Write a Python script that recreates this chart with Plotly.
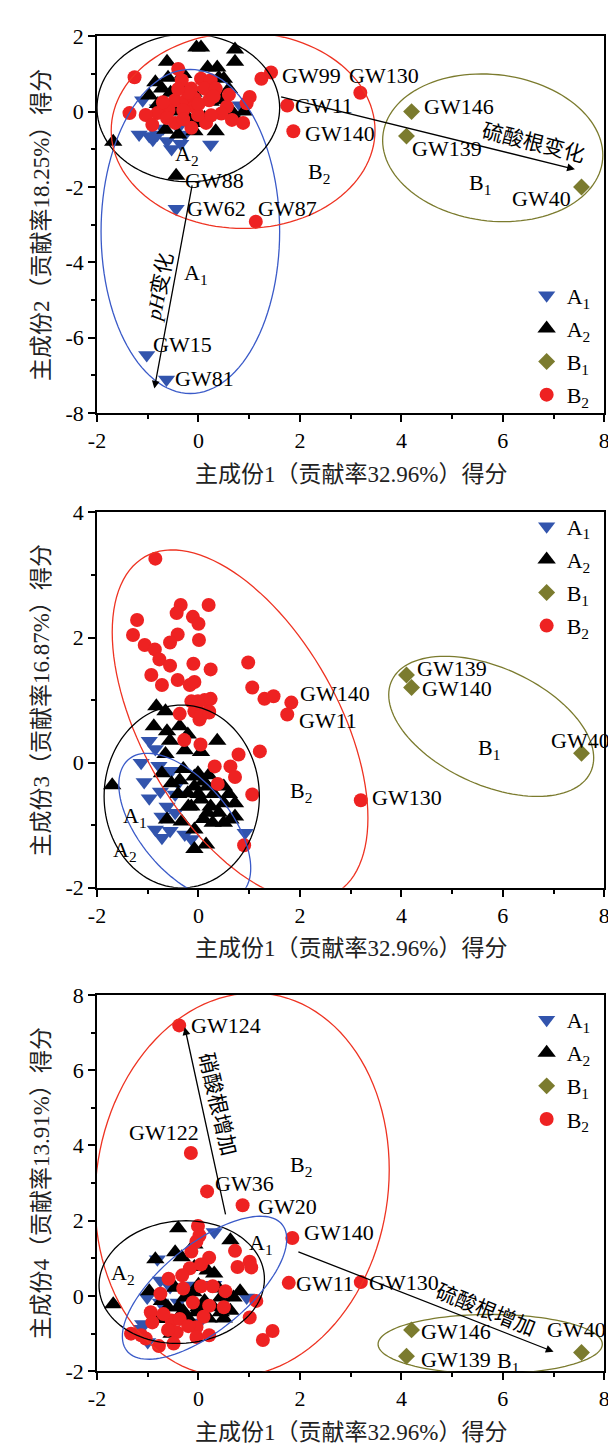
import numpy as np
import plotly.graph_objects as go

FONT = "Liberation Serif, Times New Roman, Noto Sans CJK SC, serif"

# ---------------- categories / styles ----------------
groups = ["A1", "A2", "B1", "B2"]
group_labels = ["A<sub>1</sub>", "A<sub>2</sub>", "B<sub>1</sub>", "B<sub>2</sub>"]
group_colors = {"A1": "#3254ad", "A2": "#000000", "B1": "#7b7b2e", "B2": "#ee2222"}
group_symbols = {"A1": "triangle-down", "A2": "triangle-up", "B1": "diamond", "B2": "circle"}
group_sizes = {"A1": 15, "A2": 16, "B1": 13, "B2": 14}
draw_order = ["A1", "A2", "B2", "B1"]

x_tickvals = [-2, 0, 2, 4, 6, 8]
x_ticktext = ["-2", "0", "2", "4", "6", "8"]
y1_tickvals = [2, 0, -2, -4, -6, -8]
y1_ticktext = ["2", "0", "-2", "-4", "-6", "-8"]
y2_tickvals = [4, 2, 0, -2]
y2_ticktext = ["4", "2", "0", "-2"]
y3_tickvals = [8, 6, 4, 2, 0, -2]
y3_ticktext = ["8", "6", "4", "2", "0", "-2"]

x_title = "主成份1（贡献率32.96%）得分"
y_titles = ["主成份2（贡献率18.25%）得分", "主成份3（贡献率16.87%）得分", "主成份4（贡献率13.91%）得分"]

# ---------------- Panel 1 : PC1 vs PC2 ----------------
p1_A1_x = [-1.10, -1.17, -0.97, -0.81, -0.62, -0.53, -0.40, -0.27, 0.24, 0.82, -0.81, -0.62, -0.90, -0.70, -0.35, -0.44, -1.02, -0.63]
p1_A1_y = [0.30, -0.61, -0.65, -0.61, -0.78, -0.99, -0.43, -0.61, -0.87, 0.17, 0.09, -0.13, -0.75, -0.45, -0.85, -2.58, -6.46, -7.11]
p1_A2_x = [-0.04, 0.05, 0.72, 0.72, -0.62, 0.18, 0.37, 0.50, -0.72, -0.85, -0.97, 0.66, 0.76, 0.34, -0.08, -0.65, -0.40, -1.68, -0.20, 0.12, -0.46, 0.24, -0.33, 0.45, -0.10, 0.00, 0.55, -0.55, -0.60, 0.40, 0.60, -0.80, 0.90, -0.30, -0.44]
p1_A2_y = [1.70, 1.70, 1.65, 1.32, 1.32, 1.17, 1.17, 0.87, 0.61, 0.78, 0.43, 0.00, -0.22, -0.52, -0.52, -0.48, -0.61, -0.80, -0.17, -0.17, 0.00, 0.26, 0.70, 0.30, 0.50, -0.30, -0.10, 0.50, 0.90, 0.90, 0.60, 0.20, 0.00, 1.00, -1.70]
p1_B1_x = [4.20, 4.10, 7.55]
p1_B1_y = [0.00, -0.65, -2.00]
p1_B2_x = [-1.26, -0.40, -0.33, 0.05, 0.24, -0.14, 0.12, 0.34, -0.46, -0.24, -0.08, 0.21, -0.08, -0.30, -0.59, -0.81, -1.04, -1.36, -0.91, -0.46, -0.14, 0.15, 0.56, 0.66, 0.88, 1.01, 0.95, 1.24, 1.43, 1.75, -0.01, -0.62, -0.20, 0.30, -0.40, 0.00, 0.45, -0.70, 0.60, -0.30, 0.25, 1.87, 3.19, 1.13]
p1_B2_y = [0.91, 1.13, 0.83, 0.87, 0.83, 0.61, 0.61, 0.61, 0.30, 0.30, 0.35, 0.30, 0.13, 0.04, 0.04, -0.04, -0.09, -0.04, -0.35, -0.30, -0.43, -0.30, 0.13, -0.22, -0.30, 0.39, 0.22, 0.87, 1.04, 0.16, -0.09, -0.17, 0.50, 0.40, 0.60, 0.20, -0.05, 0.25, 0.45, -0.20, -0.10, -0.52, 0.50, -2.92]

p1_lab_text = ["GW99", "GW130", "GW11", "GW140", "GW146", "GW139", "GW40", "GW88", "GW62", "GW87", "GW15", "GW81"]
p1_lab_x = [1.60, 2.92, 1.87, 2.06, 4.40, 4.16, 6.15, -0.31, -0.27, 1.13, -0.94, -0.50]
p1_lab_y = [0.95, 0.95, 0.16, -0.57, 0.13, -0.98, -2.30, -1.83, -2.57, -2.57, -6.18, -7.09]

p1_cl_text = ["A<sub>2</sub>", "B<sub>2</sub>", "B<sub>1</sub>", "A<sub>1</sub>"]
p1_cl_x = [-0.23, 2.37, 5.55, -0.04]
p1_cl_y = [-1.15, -1.62, -1.92, -4.30]

# ellipses: centre, half-width, half-height, correlation
p1_ell_group = ["A1", "A2", "B2", "B1"]
p1_ell_cx = [-0.16, -0.20, 0.88, 5.80]
p1_ell_cy = [-3.18, 0.10, -0.50, -0.96]
p1_ell_w = [1.76, 1.80, 2.60, 2.17]
p1_ell_h = [4.30, 1.96, 2.60, 1.96]
p1_ell_r = [0.0, 0.0, 0.0, -0.10]

p1_arr_tail_x = [-0.12, 1.60]
p1_arr_tail_y = [-1.92, 0.40]
p1_arr_head_x = [-0.87, 7.42]
p1_arr_head_y = [-7.35, -1.53]
p1_arr_text = ["<i>pH</i>变化", "硫酸根变化"]
p1_arr_text_x = [-0.76, 6.60]
p1_arr_text_y = [-4.66, -0.83]
p1_arr_text_angle = [-79, 14]

# ---------------- Panel 2 : PC1 vs PC3 ----------------
p2_A1_x = [-0.97, -0.85, -1.13, -0.78, -0.53, -0.75, -0.46, -0.97, -0.62, -0.46, -0.72, -0.85, -0.56, -0.72, -0.14, -0.27, 0.92, -0.40, -1.07]
p2_A1_y = [0.35, 0.22, 0.00, -0.05, -0.13, -0.46, -0.51, -0.57, -0.70, -0.80, -0.86, -1.07, -1.09, -1.20, -1.22, -1.15, -1.12, -0.33, -0.31]
p2_A2_x = [-0.83, -0.65, -0.88, -0.62, -0.37, -0.21, -0.56, 0.37, 0.05, -0.27, -0.65, -1.70, -0.30, -0.08, -0.08, 0.18, 0.50, -0.21, 0.05, 0.24, 0.50, 0.72, -0.62, -0.33, -0.08, 0.28, 0.50, 0.63, -0.53, -0.37, 0.15, -0.08, -0.72, -0.14, 0.18, 0.72, -0.01, 0.00, 0.30, 0.10, -0.20, 0.40, 0.10, 0.60, -0.40, 0.20]
p2_A2_y = [0.90, 0.82, 0.58, 0.50, 0.58, 0.45, 0.35, 0.35, 0.17, 0.20, 0.14, -0.36, -0.10, -0.22, -0.38, -0.38, -0.38, -0.49, -0.59, -0.70, -0.65, -0.65, -0.91, -0.94, -1.07, -0.96, -0.96, -0.91, -0.33, -0.28, -1.31, -1.38, -0.17, -0.70, -0.80, -0.86, -0.17, -0.50, -0.50, -0.30, -0.70, -0.80, -0.90, -0.50, -0.50, -0.20]
p2_B1_x = [4.10, 4.20, 7.55]
p2_B1_y = [1.40, 1.20, 0.15]
p2_B2_x = [-0.85, -0.35, -0.43, 0.20, -0.11, 0.00, -1.21, -1.29, -0.41, -0.56, 0.01, -1.06, -0.86, -0.77, -0.56, -0.10, 0.24, -0.93, -0.72, -0.41, -0.17, -0.08, 0.98, 1.06, 1.30, 1.48, 1.83, 1.75, -0.14, -0.01, 0.12, 0.24, 0.21, -0.37, -0.01, 0.02, -0.08, 0.05, 0.21, -0.28, 0.04, 1.21, 0.79, 0.32, 0.63, 0.72, 0.38, 1.06, 0.90, 3.20]
p2_B2_y = [3.26, 2.52, 2.39, 2.52, 2.33, 2.22, 2.28, 2.04, 2.05, 1.92, 1.96, 1.88, 1.81, 1.65, 1.55, 1.58, 1.49, 1.40, 1.24, 1.32, 1.24, 1.29, 1.60, 1.20, 1.02, 1.06, 0.96, 0.77, 0.98, 0.98, 1.00, 1.02, 0.82, 0.78, 0.83, 0.69, 0.82, 0.75, 0.80, 0.36, 0.29, 0.18, 0.13, -0.06, -0.06, -0.23, -0.34, -0.51, -1.32, -0.60]

p2_lab_text = ["GW139", "GW140", "GW140", "GW11", "GW40", "GW130"]
p2_lab_x = [4.27, 4.37, 1.96, 1.94, 6.90, 3.39]
p2_lab_y = [1.50, 1.19, 1.11, 0.67, 0.35, -0.56]

p2_cl_text = ["B<sub>1</sub>", "B<sub>2</sub>", "A<sub>1</sub>", "A<sub>2</sub>"]
p2_cl_x = [5.73, 2.02, -1.25, -1.44]
p2_cl_y = [0.22, -0.47, -0.87, -1.42]

p2_ell_group = ["B2", "A2", "A1", "B1"]
p2_ell_cx = [0.82, -0.33, -0.27, 5.77]
p2_ell_cy = [0.60, -0.54, -1.02, 0.58]
p2_ell_w = [2.52, 1.53, 1.30, 2.02]
p2_ell_h = [2.80, 1.46, 1.17, 1.12]
p2_ell_r = [-0.53, 0.0, -0.57, -0.45]

# ---------------- Panel 3 : PC1 vs PC4 ----------------
p3_A1_x = [0.31, -0.81, -0.75, -0.56, -0.17, -1.01, -0.75, 0.95, -1.10, -1.00, -1.13, 0.02, -0.40, 0.30]
p3_A1_y = [1.70, 0.98, 0.41, 0.24, 0.28, -0.04, -0.17, -0.04, -0.74, -1.22, -0.87, -0.70, -0.17, 0.30]
p3_A2_x = [-0.40, 0.63, -0.85, -0.46, -0.08, -0.33, 0.18, -0.08, -1.68, -0.97, -0.46, -0.27, 0.12, 0.44, 0.69, 0.82, -0.72, -0.40, 0.44, 0.63, -0.04, -0.53, 0.31, -0.78, 0.00, -0.20, 0.30, 0.00, 0.20, -0.30, 0.50, -0.10, 0.40, -0.60]
p3_A2_y = [1.80, 1.48, 0.98, 1.16, 1.37, 1.03, 0.68, 0.77, -0.22, 0.13, 0.22, -0.04, -0.13, -0.04, -0.04, 0.13, -0.13, -0.30, -0.43, -0.39, -0.43, -1.00, 0.60, -0.61, 0.30, -0.60, -0.30, -0.30, -0.60, -0.40, -0.60, 0.10, 0.20, -0.30]
p3_B1_x = [4.20, 4.10, 7.55]
p3_B1_y = [-0.90, -1.60, -1.50]
p3_B2_x = [-0.38, -0.15, 0.17, 0.87, 1.85, 1.78, 3.20, -0.01, 0.02, -0.04, -0.14, 0.72, 1.01, 1.04, 0.77, 0.21, -0.17, -0.32, 0.05, -0.59, 0.28, 0.05, -0.75, -0.11, 0.21, 1.14, -0.94, -0.53, -0.37, -0.91, -0.43, -0.04, -0.04, 0.21, -0.49, -0.78, -1.13, -1.33, -1.04, 1.27, 1.46, 1.01, -0.69, 0.53, -0.20, 0.10, -0.60, 0.50, -0.30]
p3_B2_y = [7.19, 3.80, 2.78, 2.41, 1.54, 0.35, 0.37, 1.86, 1.61, 1.45, 1.18, 1.20, 0.91, 0.76, 0.77, 1.02, 0.74, 0.55, 0.84, 0.46, 0.26, 0.26, 0.06, -0.17, -0.26, -0.13, -0.43, -0.65, -0.61, -0.70, -0.96, -0.83, -1.09, -1.04, -1.26, -1.33, -1.04, -1.00, -1.13, -1.17, -0.93, -0.57, -0.48, 0.13, -0.80, -0.55, -0.90, -0.30, 0.20]

p3_lab_text = ["GW124", "GW122", "GW36", "GW20", "GW140", "GW11", "GW130", "GW146", "GW139", "GW40"]
p3_lab_x = [-0.19, -1.40, 0.29, 1.13, 2.04, 1.89, 3.33, 4.35, 4.35, 6.83]
p3_lab_y = [7.20, 4.34, 2.99, 2.39, 1.70, 0.32, 0.37, -0.95, -1.69, -0.88]

p3_cl_text = ["B<sub>2</sub>", "A<sub>1</sub>", "A<sub>2</sub>", "B<sub>1</sub>"]
p3_cl_x = [2.02, 1.23, -1.48, 6.10]
p3_cl_y = [3.46, 1.37, 0.59, -1.75]

p3_ell_group = ["B2", "A2", "A1", "B1"]
p3_ell_cx = [0.86, -0.33, 0.12, 5.75]
p3_ell_cy = [2.95, 0.37, 0.22, -1.28]
p3_ell_w = [2.90, 1.63, 1.62, 2.21]
p3_ell_h = [5.10, 1.63, 1.90, 0.79]
p3_ell_r = [0.08, 0.05, 0.68, 0.0]

p3_arr_tail_x = [0.54, 1.94]
p3_arr_tail_y = [2.13, 1.19]
p3_arr_head_x = [-0.27, 7.00]
p3_arr_head_y = [7.14, -1.48]
p3_arr_text = ["硝酸根增加", "硫酸根增加"]
p3_arr_text_x = [0.37, 5.65]
p3_arr_text_y = [5.10, -0.38]
p3_arr_text_angle = [77, 22]

# ---------------- layout geometry (paper fractions) ----------------
W, H = 616, 1451
x_domain = [82 / W, 602 / W]
y_domains = [[1 - 400 / H, 1 - 16.5 / H], [1 - 883 / H, 1 - 501 / H], [1 - 1375 / H, 1 - 992 / H]]
y_ranges = [[-8, 2], [-2, 4], [-2, 8]]
y_ticks = [(y1_tickvals, y1_ticktext), (y2_tickvals, y2_ticktext), (y3_tickvals, y3_ticktext)]
xtitle_y = [1 - 462 / H, 1 - 945 / H, 1 - 1437 / H]
legend_pos = [(0.848, 1 - 259 / H), (0.848, 1 - 494 / H), (0.848, 1 - 996 / H)]

panels = [
    dict(data={"A1": (p1_A1_x, p1_A1_y), "A2": (p1_A2_x, p1_A2_y), "B1": (p1_B1_x, p1_B1_y), "B2": (p1_B2_x, p1_B2_y)},
         lab=(p1_lab_text, p1_lab_x, p1_lab_y), cl=(p1_cl_text, p1_cl_x, p1_cl_y),
         ell=(p1_ell_group, p1_ell_cx, p1_ell_cy, p1_ell_w, p1_ell_h, p1_ell_r),
         arr=(p1_arr_tail_x, p1_arr_tail_y, p1_arr_head_x, p1_arr_head_y, p1_arr_text, p1_arr_text_x, p1_arr_text_y, p1_arr_text_angle)),
    dict(data={"A1": (p2_A1_x, p2_A1_y), "A2": (p2_A2_x, p2_A2_y), "B1": (p2_B1_x, p2_B1_y), "B2": (p2_B2_x, p2_B2_y)},
         lab=(p2_lab_text, p2_lab_x, p2_lab_y), cl=(p2_cl_text, p2_cl_x, p2_cl_y),
         ell=(p2_ell_group, p2_ell_cx, p2_ell_cy, p2_ell_w, p2_ell_h, p2_ell_r),
         arr=None),
    dict(data={"A1": (p3_A1_x, p3_A1_y), "A2": (p3_A2_x, p3_A2_y), "B1": (p3_B1_x, p3_B1_y), "B2": (p3_B2_x, p3_B2_y)},
         lab=(p3_lab_text, p3_lab_x, p3_lab_y), cl=(p3_cl_text, p3_cl_x, p3_cl_y),
         ell=(p3_ell_group, p3_ell_cx, p3_ell_cy, p3_ell_w, p3_ell_h, p3_ell_r),
         arr=(p3_arr_tail_x, p3_arr_tail_y, p3_arr_head_x, p3_arr_head_y, p3_arr_text, p3_arr_text_x, p3_arr_text_y, p3_arr_text_angle)),
]

ell_colors = {"A1": "#3a5ac8", "A2": "#000000", "B1": "#7b7b2e", "B2": "#ee3322"}


def ellipse_path(cx, cy, w, h, r):
    t = np.linspace(0, 2 * np.pi, 121)
    xs = cx + w * np.cos(t)
    ys = cy + h * (r * np.cos(t) + np.sqrt(1 - r * r) * np.sin(t))
    pts = [f"{x:.4f},{y:.4f}" for x, y in zip(xs, ys)]
    return "M " + " L ".join(pts) + " Z"


fig = go.Figure()
shapes = []
annotations = []
layout_axes = {}

for i, p in enumerate(panels):
    n = i + 1
    xa = "x" if n == 1 else f"x{n}"
    ya = "y" if n == 1 else f"y{n}"
    leg = "legend" if n == 1 else f"legend{n}"
    for g in draw_order:
        xs, ys = p["data"][g]
        k = groups.index(g)
        fig.add_trace(go.Scatter(
            x=xs, y=ys, mode="markers", xaxis=xa, yaxis=ya,
            name=group_labels[k], legend=leg, legendgroup=f"{n}{g}", legendrank=k + 1,
            marker=dict(symbol=group_symbols[g], size=group_sizes[g], color=group_colors[g], line=dict(width=0)),
            cliponaxis=False, hoverinfo="skip"))
    # ellipses
    for g, cx, cy, w, h, r in zip(*p["ell"]):
        shapes.append(dict(type="path", xref=xa, yref=ya, path=ellipse_path(cx, cy, w, h, r),
                           line=dict(color=ell_colors[g], width=1.3), layer="above"))
    # sample labels
    for t, x, y in zip(*p["lab"]):
        annotations.append(dict(x=x, y=y, xref=xa, yref=ya, text=t, showarrow=False, xanchor="left", yanchor="middle",
                                font=dict(family=FONT, size=22, color="black")))
    # cluster labels
    for t, x, y in zip(*p["cl"]):
        annotations.append(dict(x=x, y=y, xref=xa, yref=ya, text=t, showarrow=False, xanchor="center", yanchor="middle",
                                font=dict(family=FONT, size=22, color="black")))
    # arrows
    if p["arr"] is not None:
        tx, ty, hx, hy, at, atx, aty, ang = p["arr"]
        for a in range(len(tx)):
            annotations.append(dict(x=hx[a], y=hy[a], ax=tx[a], ay=ty[a], xref=xa, yref=ya, axref=xa, ayref=ya,
                                    text="", showarrow=True, arrowhead=2, arrowsize=1.2, arrowwidth=1.3, arrowcolor="black"))
            annotations.append(dict(x=atx[a], y=aty[a], xref=xa, yref=ya, text=at[a], showarrow=False,
                                    textangle=ang[a], font=dict(family=FONT, size=21, color="black")))
    # axes
    xkey = "xaxis" if n == 1 else f"xaxis{n}"
    ykey = "yaxis" if n == 1 else f"yaxis{n}"
    yt = y_ticks[i]
    layout_axes[xkey] = dict(domain=x_domain, anchor=ya, range=[-2, 8], tickvals=x_tickvals, ticktext=x_ticktext,
                             showgrid=False, zeroline=False, showline=True, mirror=True, linecolor="black", linewidth=1.5,
                             ticks="outside", ticklen=7, tickwidth=1.5, tickcolor="black",
                             minor=dict(ticks="outside", tickvals=[-1, 1, 3, 5, 7], ticklen=4, tickwidth=1.5, tickcolor="black"),
                             tickfont=dict(family=FONT, size=22, color="black"))
    layout_axes[ykey] = dict(domain=y_domains[i], anchor=xa, range=y_ranges[i], tickvals=yt[0], ticktext=yt[1],
                             showgrid=False, zeroline=False, showline=True, mirror=True, linecolor="black", linewidth=1.5,
                             ticks="outside", ticklen=7, tickwidth=1.5, tickcolor="black",
                             minor=dict(ticks="outside", dtick=1, tick0=1, ticklen=4, tickwidth=1.5, tickcolor="black"),
                             tickfont=dict(family=FONT, size=22, color="black"))
    # axis titles
    annotations.append(dict(x=sum(x_domain) / 2, y=xtitle_y[i], xref="paper", yref="paper", text=x_title,
                            showarrow=False, xanchor="center", yanchor="middle",
                            font=dict(family=FONT, size=23, color="#222222")))
    annotations.append(dict(x=25 / W, y=sum(y_domains[i]) / 2, xref="paper", yref="paper", text=y_titles[i],
                            showarrow=False, textangle=-90, xanchor="center", yanchor="middle",
                            font=dict(family=FONT, size=23, color="#222222")))
    lx, ly = legend_pos[i]
    layout_axes[leg] = dict(x=lx, y=ly, xanchor="left", yanchor="top", bgcolor="rgba(0,0,0,0)",
                            font=dict(family=FONT, size=22, color="black"), tracegroupgap=1.5,
                            itemwidth=30)

fig.update_layout(
    width=W, height=H, margin=dict(l=0, r=0, t=0, b=0),
    paper_bgcolor="white", plot_bgcolor="white", showlegend=True,
    shapes=shapes, annotations=annotations, **layout_axes)

fig.write_html("out.html")
